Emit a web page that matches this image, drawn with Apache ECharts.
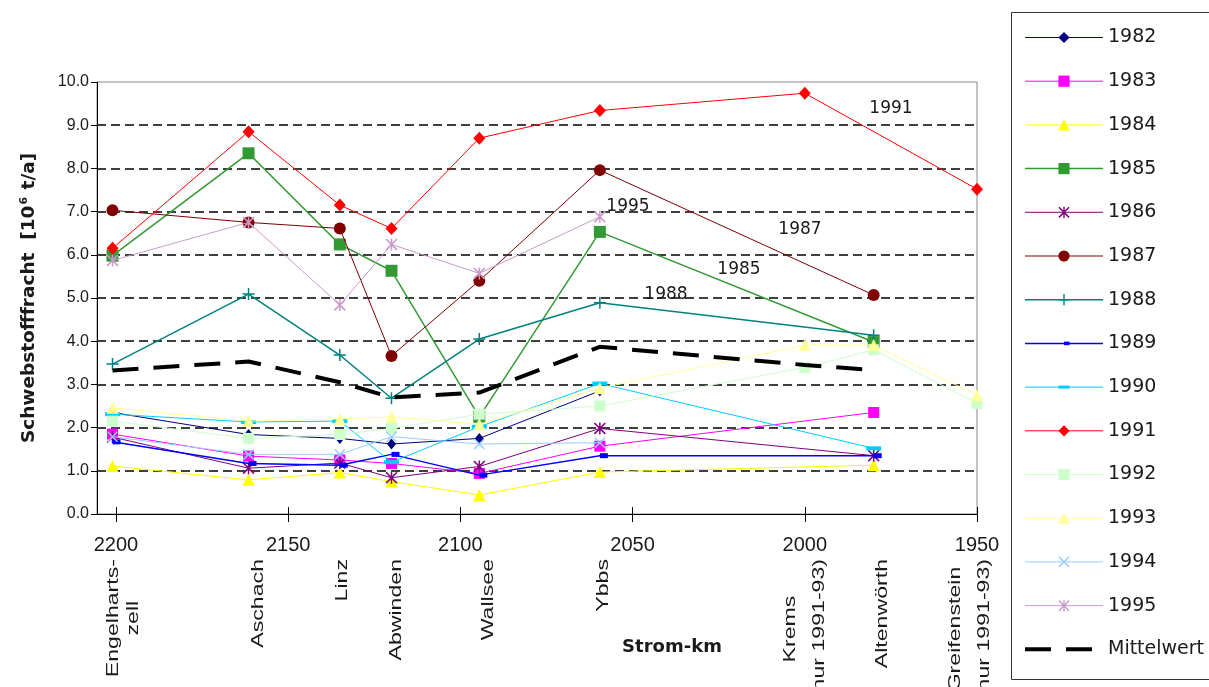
<!DOCTYPE html>
<html>
<head>
<meta charset="utf-8">
<script src="https://cdn.jsdelivr.net/npm/echarts@6/dist/echarts.min.js"></script>
<style>
  html, body { margin: 0; padding: 0; background: #fff; }
  #chart { width: 1209px; height: 687px; }
</style>
</head>
<body>
<div id="chart"></div>
<script>
// Danube stations (river km) and annual suspended-sediment loads [10^6 t/a]
const stationKm = [2201, 2161.5, 2135, 2120, 2094.5, 2059.5, 2000, 1980, 1950];
const stationNames = [['Engelharts-', 'zell'], ['Aschach'], ['Linz'], ['Abwinden'], ['Wallsee'], ['Ybbs'],
  ['Krems', '(nur 1991-93)'], ['Altenwörth'], ['Greifenstein', '(nur 1991-93)']];
const kmTicks = [2200, 2150, 2100, 2050, 2000, 1950];

const years = ['1982', '1983', '1984', '1985', '1986', '1987', '1988', '1989', '1990', '1991', '1992', '1993', '1994', '1995'];
const v1982 = [2.35, 1.84, 1.75, 1.62, 1.75, 2.85, null, null, null];
const v1983 = [1.85, 1.34, 1.25, 1.17, 0.94, 1.57, null, 2.35, null];
const v1984 = [1.11, 0.79, 0.96, 0.75, 0.44, 0.97, null, 1.13, null];
const v1985 = [5.98, 8.35, 6.24, 5.63, 2.25, 6.53, null, 3.98, null];
const v1986 = [1.78, 1.06, 1.18, 0.84, 1.10, 1.98, null, 1.35, null];
const v1987 = [7.03, 6.75, 6.61, 3.66, 5.40, 7.96, null, 5.07, null];
const v1988 = [3.47, 5.09, 3.68, 2.68, 4.05, 4.89, null, 4.14, null];
const v1989 = [1.67, 1.17, 1.13, 1.38, 0.90, 1.35, null, 1.35, null];
const v1990 = [2.31, 2.13, 2.15, 1.20, 2.02, 3.02, null, 1.52, null];
const v1991 = [6.15, 8.85, 7.15, 6.61, 8.70, 9.34, 9.74, null, 7.52];
const v1992 = [2.15, 1.75, 1.84, 1.98, 2.31, 2.50, 3.39, 3.80, 2.56];
const v1993 = [2.46, 2.15, 2.20, 2.25, 2.08, 2.91, 3.91, 3.91, 2.75];
const v1994 = [1.79, 1.38, 1.38, 1.79, 1.62, 1.65, null, null, null];
const v1995 = [5.87, 6.75, 4.84, 6.24, 5.57, 6.88, null, null, null];
const mittelwert = [3.32, 3.53, 3.05, 2.70, 2.81, 3.87, 3.45, 3.33, null];

const yearValues = [v1982, v1983, v1984, v1985, v1986, v1987, v1988, v1989, v1990, v1991, v1992, v1993, v1994, v1995];

// Marker shapes (filled paths; zero-length segments pin a square bounding box)
const BOX12 = 'M0,0L0,0M12,12L12,12';
const DIAG = 'M1.13,0L12,10.87L10.87,12L0,1.13Z M10.87,0L12,1.13L1.13,12L0,10.87Z';
const VBAR = 'M5.25,0L6.75,0L6.75,12L5.25,12Z';
const HBAR = 'M0,5.25L12,5.25L12,6.75L0,6.75Z';
const SYM_STAR = 'path://' + BOX12 + ' ' + DIAG + ' ' + VBAR;
const SYM_X = 'path://' + BOX12 + ' ' + DIAG;
const SYM_PLUS = 'path://' + BOX12 + ' ' + VBAR + ' ' + HBAR;
const SYM_SHORTDASH = 'path://M0,0L0,0M16,16L16,16 M8,5.5L16,5.5L16,10.5L8,10.5Z';
const SYM_DASH = 'path://M0,0L0,0M15,15L15,15 M0,5.5L15,5.5L15,9.5L0,9.5Z';

const styles = [
  { color: '#000080', symbol: 'diamond', size: [9, 11], width: 1 },
  { color: '#FF00FF', symbol: 'rect', size: 11, width: 1 },
  { color: '#FFFF00', symbol: 'triangle', size: 12, width: 1 },
  { color: '#339933', symbol: 'rect', size: 12, width: 1.5 },
  { color: '#800080', symbol: SYM_STAR, size: 12, width: 1 },
  { color: '#800000', symbol: 'circle', size: 12, width: 1 },
  { color: '#008080', symbol: SYM_PLUS, size: 12, width: 1.5 },
  { color: '#0000FF', symbol: SYM_SHORTDASH, size: 16, width: 1.5 },
  { color: '#00CCFF', symbol: SYM_DASH, size: 15, width: 1 },
  { color: '#FF0000', symbol: 'diamond', size: [12, 13], width: 1 },
  { color: '#CCFFCC', symbol: 'rect', size: 11, width: 1 },
  { color: '#FFFF99', symbol: 'triangle', size: 12, width: 1 },
  { color: '#99CCFF', symbol: SYM_X, size: 11, width: 1 },
  { color: '#CC99CC', symbol: SYM_STAR, size: 12, width: 1 }
];

function toPairs(vals) {
  const out = [];
  vals.forEach((v, i) => { if (v !== null) out.push([stationKm[i], v]); });
  return out;
}

const TEXT = '#1a1a1a';
const SANS = '"Liberation Sans", Arial, sans-serif';
const WIDE = '"DejaVu Sans", Verdana, sans-serif';

const series = years.map((name, i) => ({
  name: name,
  type: 'line',
  data: toPairs(yearValues[i]),
  symbol: styles[i].symbol,
  symbolSize: styles[i].size,
  symbolKeepAspect: true,
  showAllSymbol: true,
  lineStyle: { color: styles[i].color, width: styles[i].width },
  itemStyle: { color: styles[i].color, borderWidth: 0 },
  emphasis: { disabled: true },
  z: 2 + i * 0.01
}));

series.push({
  name: 'Mittelwert',
  type: 'line',
  data: toPairs(mittelwert),
  symbol: 'none',
  lineStyle: { color: '#000', width: 4, type: [26, 15] },
  itemStyle: { color: '#000', borderWidth: 0 },
  emphasis: { disabled: true },
  z: 3
});

const chart = echarts.init(document.getElementById('chart'), null, { renderer: 'canvas' });

// Station names: rotated, each block top-aligned under the axis, lines centred on each other
const measureCtx = document.createElement('canvas').getContext('2d');
const STATION_FONT_SIZE = 17;
const STATION_STRETCH = 1.36;
measureCtx.font = STATION_FONT_SIZE + 'px ' + SANS;
const stationLineX = [[113, 133], [258], [342], [396], [488], [603], [790, 819], [882], [955, 984]];
const stationTop = 559;
const graphics = [];
stationNames.forEach((lines, si) => {
  const maxLen = Math.max(...lines.map(t => measureCtx.measureText(t).width)) * STATION_STRETCH;
  lines.forEach((t, li) => {
    graphics.push({
      type: 'text',
      x: stationLineX[si][li],
      y: stationTop + maxLen / 2,
      rotation: Math.PI / 2,
      scaleX: STATION_STRETCH,
      style: {
        text: t, fill: TEXT, fontSize: STATION_FONT_SIZE, fontFamily: SANS,
        align: 'center', verticalAlign: 'middle', textAlign: 'center', textVerticalAlign: 'middle'
      }
    });
  });
});

// Year tags written beside their curves
const tags = [['1991', 891, 109], ['1995', 628, 207], ['1987', 800, 230], ['1985', 739, 270], ['1988', 666, 295]];
tags.forEach(([t, x, y]) => {
  graphics.push({
    type: 'text', x: x, y: y, z: 10,
    style: {
      text: t, fill: TEXT, fontSize: 17, fontFamily: WIDE,
      align: 'center', verticalAlign: 'middle', textAlign: 'center', textVerticalAlign: 'middle'
    }
  });
});

graphics.push({
  type: 'text', x: 672, y: 647,
  style: {
    text: 'Strom-km', fill: TEXT, fontSize: 18, fontWeight: 'bold', fontFamily: WIDE,
    align: 'center', verticalAlign: 'middle', textAlign: 'center', textVerticalAlign: 'middle'
  }
});

// Legend frame
graphics.push({
  type: 'rect', z: 0,
  shape: { x: 1011.5, y: 12.5, width: 220, height: 667 },
  style: { fill: 'none', stroke: '#333', lineWidth: 1 }
});

const legendData = years.map(n => ({ name: n }));
legendData.push({ name: 'Mittelwert', itemStyle: { opacity: 0 } });

const option = {
  animation: false,
  backgroundColor: '#fff',
  grid: {
    left: 97, top: 82, width: 880, height: 432,
    show: true, borderColor: '#888', borderWidth: 1, backgroundColor: 'transparent'
  },
  legend: {
    orient: 'vertical',
    left: 1023, top: 28, height: 655,
    padding: 0,
    itemWidth: 78, itemHeight: 14, itemGap: 24.7,
    selectedMode: false,
    data: legendData,
    lineStyle: { width: 'inherit', type: 'inherit' },
    textStyle: { fontFamily: WIDE, fontSize: 19, color: TEXT }
  },
  xAxis: [
    {
      type: 'value', min: 1950, max: 2205.5, inverse: true,
      axisLine: { show: true, lineStyle: { color: '#000', width: 1 } },
      axisTick: { show: true, length: 8, customValues: kmTicks, lineStyle: { color: '#000' } },
      axisLabel: {
        customValues: kmTicks, margin: 21, fontSize: 20, fontFamily: SANS, color: TEXT,
        formatter: v => String(v)
      },
      splitLine: { show: false }
    },
    {
      type: 'value', min: 1950, max: 2205.5, inverse: true, position: 'bottom',
      axisLine: { show: false },
      axisTick: { show: true, inside: true, length: 7, customValues: kmTicks, lineStyle: { color: '#000' } },
      axisLabel: { show: false },
      splitLine: { show: false }
    }
  ],
  yAxis: {
    type: 'value', min: 0, max: 10, interval: 1,
    axisLine: { show: true, lineStyle: { color: '#000', width: 1 } },
    axisTick: { show: true, length: 6, lineStyle: { color: '#000' } },
    axisLabel: {
      margin: 8, fontSize: 16, fontFamily: SANS, color: TEXT,
      formatter: v => v.toFixed(1)
    },
    splitLine: {
      show: true, showMinLine: false, showMaxLine: false,
      lineStyle: { color: '#000', width: 1.5, type: [9, 5] }
    },
    name: 'Schwebstofffracht  [10{sup|6} t/a]',
    nameLocation: 'middle',
    nameGap: 58,
    nameTextStyle: {
      fontFamily: WIDE, fontWeight: 'bold', fontSize: 18.5, color: TEXT,
      rich: {
        sup: { fontFamily: WIDE, fontWeight: 'bold', fontSize: 11, color: TEXT, verticalAlign: 'top', padding: [0, 1, 9, 1] }
      }
    }
  },
  graphic: graphics,
  series: series
};

chart.setOption(option);
</script>
</body>
</html>
